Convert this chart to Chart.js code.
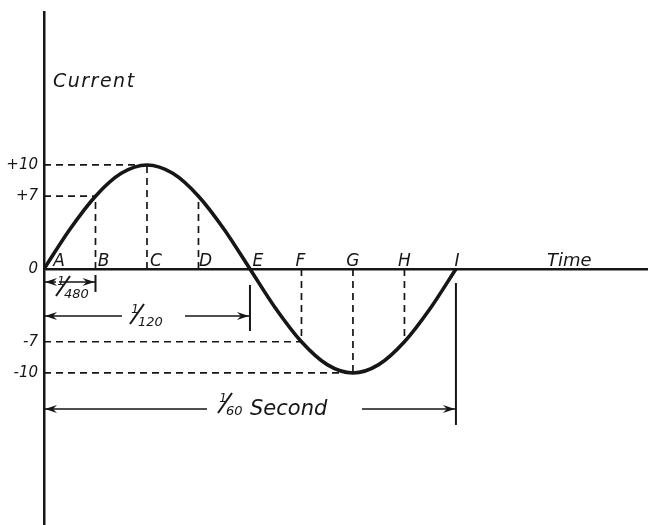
<!DOCTYPE html>
<html>
<head>
<meta charset="utf-8">
<script src="https://cdn.jsdelivr.net/npm/chart.js@4.4.1/dist/chart.umd.min.js"></script>
<style>
  html, body { margin: 0; padding: 0; background: #fff; }
  #wrap { width: 648px; height: 525px; }
</style>
</head>
<body>
<div id="wrap"><canvas id="sine"></canvas></div>
<script>
// time in units of 1/480 second, current in amperes
const letters = ['A', 'B', 'C', 'D', 'E', 'F', 'G', 'H', 'I'];
const letterTimes = [0, 1, 2, 3, 4, 5, 6, 7, 8];
const letterValues = [0, 7, 10, 7, 0, -7, -10, -7, 0];

const curveTimes = [0, 0.5, 1, 1.5, 2, 2.5, 3, 3.5, 4, 4.5, 5, 5.5, 6, 6.5, 7, 7.5, 8];
const curveValues = [0, 3.8, 7, 9.2, 10, 9.2, 7, 3.8, 0, -3.8, -7, -9.2, -10, -9.2, -7, -3.8, 0];

const yTicks = [10, 7, 0, -7, -10];
const yTickLabels = ['+10', '+7', '0', '-7', '-10'];

// which points get dashed guides
const guideH = ['B', 'C', 'F', 'G'];
const guideV = ['B', 'C', 'D', 'F', 'G', 'H'];

// dimension spans (start, end in 1/480 s) and their labels
const spanStarts = [0, 0, 0];
const spanEnds = [1, 4, 8];
const spanNum = ['1', '1', '1'];
const spanDen = ['480', '120', '60'];
const spanWord = ['', '', 'Second'];

const INK = '#161616';
const FONT = '"DejaVu Sans", sans-serif';

const datasets = [{
  data: curveTimes.map((t, i) => ({ x: t, y: curveValues[i] })),
  borderColor: INK,
  borderWidth: 3.6,
  pointRadius: 0,
  cubicInterpolationMode: 'monotone',
  fill: false
}];

function guide(a, b) {
  return {
    data: [a, b],
    borderColor: INK,
    borderWidth: 1.7,
    borderDash: [7, 5],
    pointRadius: 0,
    fill: false
  };
}

guideH.forEach(l => {
  const i = letters.indexOf(l);
  datasets.push(guide({ x: 0, y: letterValues[i] }, { x: letterTimes[i], y: letterValues[i] }));
});
guideV.forEach(l => {
  const i = letters.indexOf(l);
  datasets.push(guide({ x: letterTimes[i], y: 0 }, { x: letterTimes[i], y: letterValues[i] }));
});

function arrowHead(ctx, x, y, dir) {
  // dir = -1 points left, 1 points right
  ctx.beginPath();
  ctx.moveTo(x, y);
  ctx.lineTo(x - dir * 12, y - 4);
  ctx.lineTo(x - dir * 8, y);
  ctx.lineTo(x - dir * 12, y + 4);
  ctx.closePath();
  ctx.fill();
}

function fraction(ctx, sx, sy, num, den) {
  ctx.lineWidth = 2;
  ctx.beginPath();
  ctx.moveTo(sx - 7, sy + 10);
  ctx.lineTo(sx + 7, sy - 10);
  ctx.stroke();
  ctx.font = 'italic 12px ' + FONT;
  ctx.textAlign = 'center';
  ctx.textBaseline = 'alphabetic';
  ctx.fillText(num, sx - 2, sy - 1);
  ctx.font = 'italic 13px ' + FONT;
  ctx.textAlign = 'left';
  ctx.fillText(den, sx + 1, sy + 12);
}

const annotations = {
  id: 'annotations',
  afterDatasetsDraw(chart) {
    const ctx = chart.ctx;
    const xs = chart.scales.x;
    const ys = chart.scales.y;
    const y0 = ys.getPixelForValue(0);
    ctx.save();
    ctx.fillStyle = INK;
    ctx.strokeStyle = INK;

    // point letters
    const offs = [15, 8, 9, 7, 8, -1, 0, 0, 1];
    ctx.font = 'italic 17px ' + FONT;
    ctx.textAlign = 'center';
    ctx.textBaseline = 'alphabetic';
    letters.forEach((l, i) => {
      ctx.fillText(l, xs.getPixelForValue(letterTimes[i]) + offs[i], y0 - 3);
    });

    // axis titles
    ctx.font = 'italic 18px ' + FONT;
    ctx.textAlign = 'left';
    ctx.fillText('Time', 547, y0 - 3);
    ctx.letterSpacing = '1.5px';
    ctx.font = 'italic 19px ' + FONT;
    ctx.fillText('Current', chart.chartArea.left + 9, 87);
    ctx.letterSpacing = '0px';

    // dimension lines
    const layout = [
      { dy: 13, gap: [12, 15], sx: 63, sy: y0 + 17, tick: [6, 23] },
      { dy: 47, gap: [78, 141], sx: 137, sy: y0 + 45, tick: [16, 62] },
      { dy: 140, gap: [163, 318], sx: 225, sy: y0 + 134, tick: [14, 156] }
    ];
    layout.forEach((d, i) => {
      const a = xs.getPixelForValue(spanStarts[i]);
      const b = xs.getPixelForValue(spanEnds[i]);
      const y = y0 + d.dy;
      ctx.lineWidth = 1.6;
      ctx.beginPath();
      ctx.moveTo(a, y);
      ctx.lineTo(a + d.gap[0], y);
      ctx.moveTo(a + d.gap[1], y);
      ctx.lineTo(b, y);
      ctx.stroke();
      arrowHead(ctx, a + 1, y, -1);
      arrowHead(ctx, b - 1, y, 1);
      ctx.lineWidth = 2;
      ctx.beginPath();
      ctx.moveTo(b, y0 + d.tick[0]);
      ctx.lineTo(b, y0 + d.tick[1]);
      ctx.stroke();
      fraction(ctx, d.sx, d.sy, spanNum[i], spanDen[i]);
      if (spanWord[i]) {
        ctx.font = 'italic 21px ' + FONT;
        ctx.textAlign = 'left';
        ctx.fillText(spanWord[i], d.sx + 25, d.sy + 12);
      }
    });
    ctx.restore();
  }
};

new Chart(document.getElementById('sine'), {
  type: 'line',
  data: { datasets },
  plugins: [annotations],
  options: {
    responsive: true,
    maintainAspectRatio: false,
    animation: false,
    events: [],
    layout: { padding: { top: 12, right: 0, bottom: 0, left: 0 } },
    plugins: { legend: { display: false }, tooltip: { enabled: false } },
    scales: {
      x: {
        type: 'linear',
        display: false,
        min: 0,
        max: 11.73
      },
      y: {
        type: 'linear',
        min: -24.62,
        max: 24.71,
        afterFit(scale) {
          scale.width = 44;
          scale.paddingTop = 0;
          scale.paddingBottom = 0;
        },
        afterBuildTicks(scale) { scale.ticks = yTicks.map(v => ({ value: v })); },
        ticks: {
          padding: 6,
          color: INK,
          font: { family: FONT, size: 15, style: 'italic' },
          callback: (v) => yTickLabels[yTicks.indexOf(v)]
        },
        grid: {
          drawTicks: false,
          color: (c) => (c.tick && c.tick.value === 0 ? INK : 'rgba(0,0,0,0)'),
          lineWidth: (c) => (c.tick && c.tick.value === 0 ? 2.5 : 0)
        },
        border: { display: true, color: INK, width: 2.5 }
      }
    }
  }
});
</script>
</body>
</html>
